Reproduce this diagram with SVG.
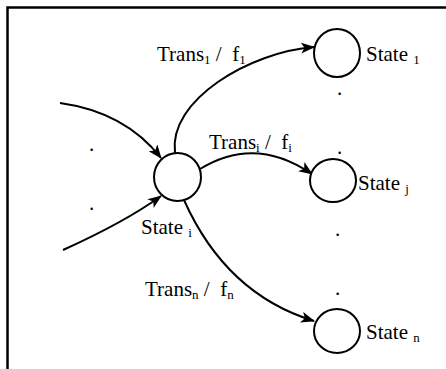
<svg xmlns="http://www.w3.org/2000/svg" width="446" height="369" viewBox="0 0 446 369">
  <defs>
    <marker id="arrow" markerUnits="userSpaceOnUse" markerWidth="14" markerHeight="12" refX="13" refY="5.5" orient="auto">
      <path d="M0,0 L14,5.5 L0,11 L3.5,5.5 z" fill="#000"/>
    </marker>
  </defs>
  <style>
    .frame { fill: none; stroke: #000; stroke-width: 2.5; }
    .state { fill: #fff; stroke: #000; stroke-width: 2; }
    .edge { fill: none; stroke: #000; stroke-width: 2; marker-end: url(#arrow); }
    text { font-family: 'Liberation Serif', 'Times New Roman', serif; font-size: 21px; fill: #000; white-space: pre; }
    .sub { font-size: 13px; }
  </style>

  <rect width="446" height="369" fill="#fff"/>
  <!-- open frame: top and left borders only -->
  <path class="frame" d="M7.5,369 L7.5,7.5 L446,7.5"/>

  <g id="connectors">
    <path class="edge" d="M60,103 Q125,112 161,158"/>
    <path class="edge" d="M63,250 Q125,222 161,196"/>
    <path class="edge" d="M175,153 C168,100 250,52 314,47"/>
    <path class="edge" d="M200,169 Q255,135 312,174"/>
    <path class="edge" d="M184,200 Q226,294 314,321"/>
  </g>

  <g id="state-i">
    <ellipse class="state" cx="177.5" cy="177" rx="23.5" ry="24"/>
    <text x="141" y="234">State <tspan class="sub" dy="3">i</tspan></text>
  </g>

  <g id="state-1">
    <ellipse class="state" cx="337" cy="53" rx="23" ry="24"/>
    <text x="366" y="61">State <tspan class="sub" dy="3">1</tspan></text>
  </g>

  <g id="state-j">
    <ellipse class="state" cx="333" cy="180.5" rx="23" ry="21.5"/>
    <text x="358" y="190">State <tspan class="sub" dy="3">j</tspan></text>
  </g>

  <g id="state-n">
    <ellipse class="state" cx="337" cy="331" rx="23" ry="22"/>
    <text x="366" y="339">State <tspan class="sub" dy="3">n</tspan></text>
  </g>

  <g id="labels">
    <text x="157" y="61">Trans<tspan class="sub" dy="3">1</tspan><tspan dy="-3"> /  f</tspan><tspan class="sub" dy="3">1</tspan></text>
    <text x="209" y="149">Trans<tspan class="sub" dy="3">i</tspan><tspan dy="-3"> /  f</tspan><tspan class="sub" dy="3">i</tspan></text>
    <text x="145" y="296">Trans<tspan class="sub" dy="3">n</tspan><tspan dy="-3"> /  f</tspan><tspan class="sub" dy="3">n</tspan></text>
  </g>

  <g id="ellipsis-dots">
    <text x="89" y="151">.</text>
    <text x="89" y="210">.</text>
    <text x="337" y="95">.</text>
    <text x="337" y="154">.</text>
    <text x="335" y="236">.</text>
    <text x="335" y="295">.</text>
  </g>
</svg>
